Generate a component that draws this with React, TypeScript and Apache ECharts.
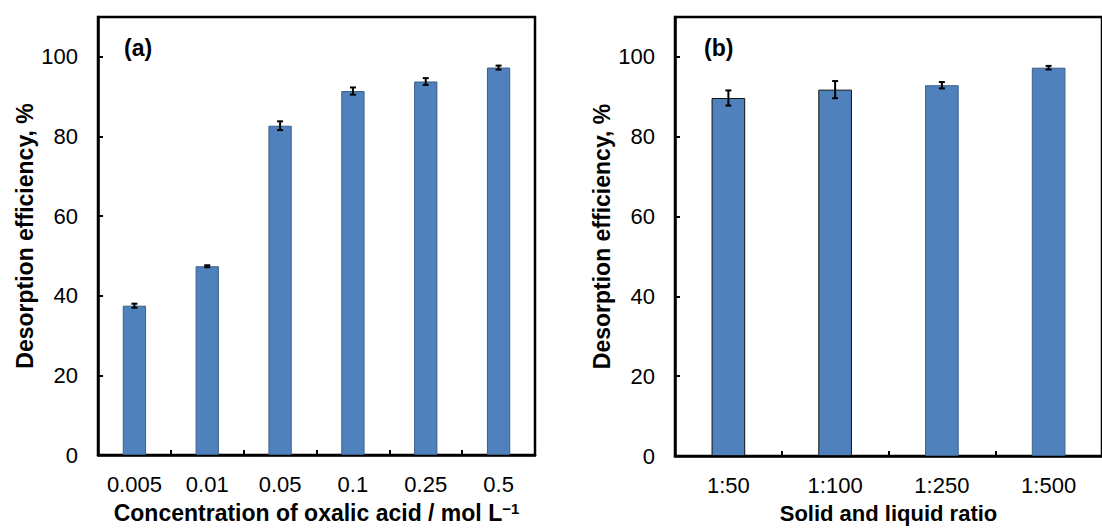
import React, { useEffect, useRef } from "react";
import * as echarts from "echarts";

// Panel (a): concentration of oxalic acid
const concCategories = ["0.005", "0.01", "0.05", "0.1", "0.25", "0.5"];
const concValues = [37.5, 47.4, 82.7, 91.4, 93.8, 97.3];
const concErrors = [0.5, 0.25, 1.1, 0.9, 0.85, 0.5];

// Panel (b): solid and liquid ratio
const ratioCategories = ["1:50", "1:100", "1:250", "1:500"];
const ratioValues = [89.7, 91.8, 92.9, 97.3];
const ratioErrors = [1.9, 2.15, 0.8, 0.45];

const yMin = 0;
const yMax = 110;
const yInterval = 20;

const FONT = "'Liberation Sans', Arial, Helvetica, sans-serif";
const BAR_COLOR = "#4F81BD";

const errorRender = (params: any, api: any) => {
  const x = api.value(0);
  const v = api.value(1);
  const e = api.value(2);
  const hi = api.coord([x, v + e]);
  const lo = api.coord([x, v - e]);
  const w = 3;
  const style = { stroke: "#000", lineWidth: 2 };
  return {
    type: "group",
    children: [
      { type: "line", shape: { x1: hi[0], y1: hi[1], x2: lo[0], y2: lo[1] }, style },
      { type: "line", shape: { x1: hi[0] - w, y1: hi[1], x2: hi[0] + w, y2: hi[1] }, style },
      { type: "line", shape: { x1: lo[0] - w, y1: lo[1], x2: lo[0] + w, y2: lo[1] }, style },
    ],
  };
};

function xAxisCfg(gridIndex: number, data: string[], name: string, nameSize: number) {
  return {
    type: "category",
    gridIndex,
    data,
    name,
    nameLocation: "middle",
    nameGap: 46,
    nameTextStyle: {
      fontFamily: FONT,
      fontSize: nameSize,
      fontWeight: "bold",
      color: "#000",
      rich: {
        sup: { fontFamily: FONT, fontSize: 15, fontWeight: "bold", color: "#000", verticalAlign: "top", lineHeight: 15 },
      },
    },
    axisLine: { show: true, lineStyle: { color: "#000", width: 2.5 } },
    axisTick: { show: true, inside: true, length: 5, alignWithLabel: false, lineStyle: { color: "#000", width: 2 } },
    axisLabel: { interval: 0, margin: 18, fontFamily: FONT, fontSize: 22, color: "#000" },
    splitLine: { show: false },
  };
}

function yAxisCfg(gridIndex: number) {
  return {
    type: "value",
    gridIndex,
    min: yMin,
    max: yMax,
    interval: yInterval,
    name: "Desorption efficiency, %",
    nameLocation: "middle",
    nameGap: 62,
    nameTextStyle: { fontFamily: FONT, fontSize: 23, fontWeight: "bold", color: "#000" },
    axisLine: { show: true, lineStyle: { color: "#000", width: 2.5 } },
    axisTick: { show: true, inside: true, length: 5, lineStyle: { color: "#000", width: 2 } },
    axisLabel: {
      margin: 20,
      fontFamily: FONT,
      fontSize: 22,
      color: "#000",
      formatter: (v: number) => (v > 100 ? "" : String(v)),
    },
    splitLine: { show: false },
  };
}

export default function App() {
  const ref = useRef<HTMLDivElement>(null);

  useEffect(() => {
    if (!ref.current) return;
    const chart = echarts.init(ref.current, undefined, { renderer: "svg" });
    const option: any = {
      animation: false,
      backgroundColor: "#fff",
      textStyle: { fontFamily: FONT },
      grid: [
        { left: 98, top: 17, width: 437, height: 444, show: true, borderColor: "#000", borderWidth: 2.5, backgroundColor: "transparent" },
        { left: 675, top: 17, width: 437, height: 444, show: true, borderColor: "#000", borderWidth: 2.5, backgroundColor: "transparent" },
      ],
      xAxis: [
        xAxisCfg(0, concCategories, "Concentration of oxalic acid / mol L{sup|−1}", 23),
        xAxisCfg(1, ratioCategories, "Solid and liquid ratio", 22),
      ],
      yAxis: [yAxisCfg(0), yAxisCfg(1)],
      series: [
        {
          type: "bar",
          xAxisIndex: 0,
          yAxisIndex: 0,
          data: concValues,
          barWidth: "32%",
          itemStyle: { color: BAR_COLOR, borderColor: "#3d5f88", borderWidth: 1 },
        },
        {
          type: "custom",
          xAxisIndex: 0,
          yAxisIndex: 0,
          renderItem: errorRender,
          encode: { x: 0, y: 1 },
          data: concCategories.map((_, i) => [i, concValues[i], concErrors[i]]),
          z: 10,
        },
        {
          type: "bar",
          xAxisIndex: 1,
          yAxisIndex: 1,
          data: ratioValues.map((v, i) => ({
            value: v,
            itemStyle: { borderColor: i < 2 ? "#111" : "#3d5f88" },
          })),
          barWidth: "31.5%",
          itemStyle: { color: BAR_COLOR, borderColor: "#3d5f88", borderWidth: 1 },
        },
        {
          type: "custom",
          xAxisIndex: 1,
          yAxisIndex: 1,
          renderItem: errorRender,
          encode: { x: 0, y: 1 },
          data: ratioCategories.map((_, i) => [i, ratioValues[i], ratioErrors[i]]),
          z: 10,
        },
      ],
      graphic: [
        { type: "text", left: 124, top: 36, style: { text: "(a)", fontFamily: FONT, fontSize: 23, fontWeight: "bold", fill: "#000" } },
        { type: "text", left: 704, top: 36, style: { text: "(b)", fontFamily: FONT, fontSize: 23, fontWeight: "bold", fill: "#000" } },
      ],
    };
    chart.setOption(option);
    return () => chart.dispose();
  }, []);

  return (
    <div
      ref={ref}
      style={{ position: "fixed", left: 0, top: 0, width: 1102, height: 529, overflow: "hidden", background: "#fff" }}
    />
  );
}
